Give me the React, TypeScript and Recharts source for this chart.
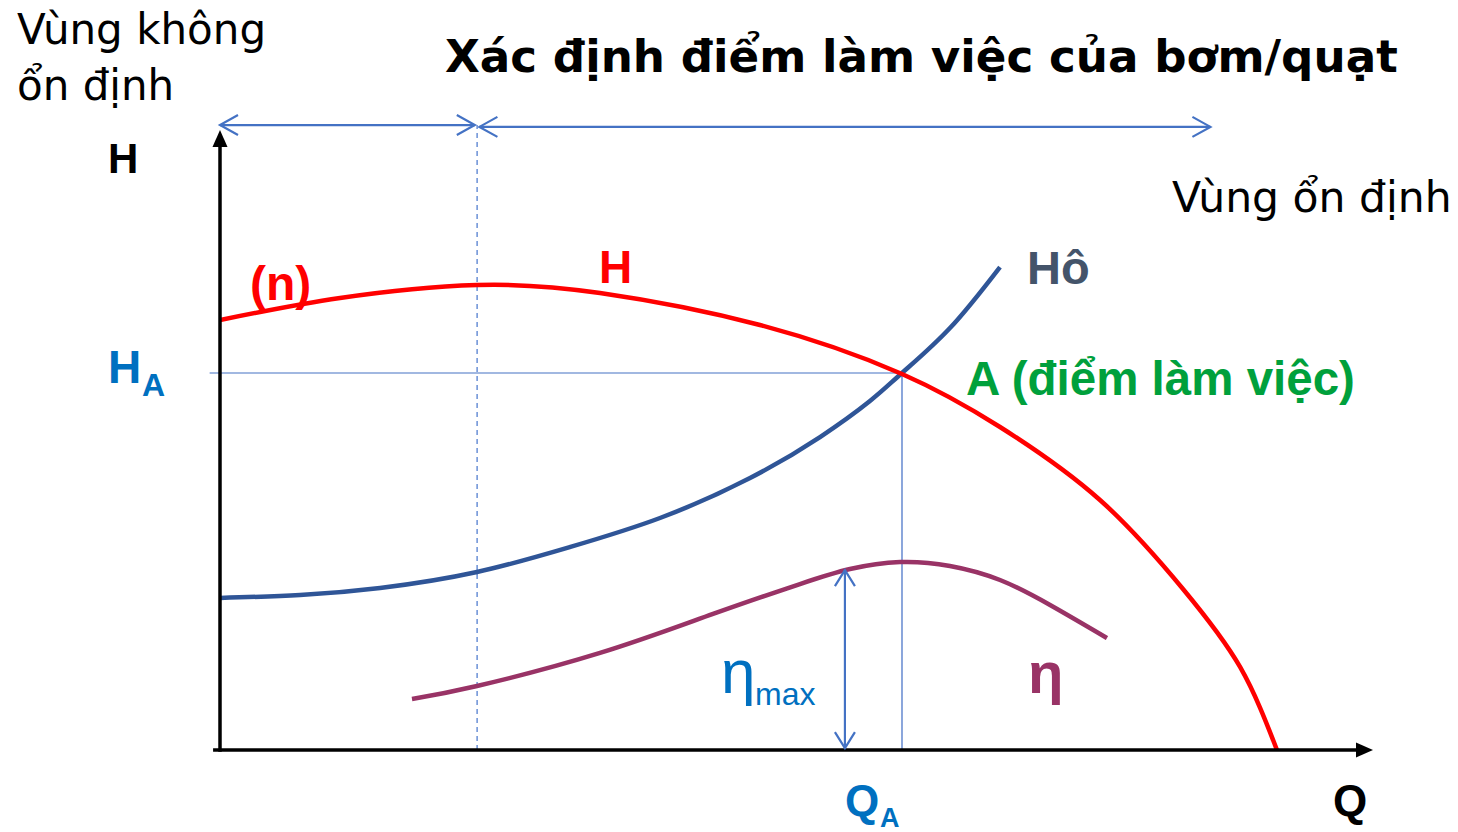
import React from 'react';
import { ComposedChart, Line, XAxis, YAxis, ReferenceLine } from 'recharts';

// Q: 0..100 along the axis, H: 0..100 up the axis
const pumpQ = [0, 10.41, 22.29, 32.96, 46.83, 59.15, 67.65, 76.32, 83.52, 88.47, 91.67];
const pumpH = [69.35, 72.9, 75.0, 73.71, 68.55, 60.65, 52.1, 40.32, 25.97, 13.39, 0];

const systemQ = [0, 6.94, 13.88, 22.29, 30.36, 38.16, 45.97, 52.04, 56.37, 59.15, 63.31, 67.65];
const systemH = [24.52, 25.0, 26.13, 28.71, 32.74, 37.42, 43.87, 50.48, 56.29, 60.81, 68.06, 77.9];

const effQ = [16.65, 22.29, 32.96, 42.76, 50.3, 54.64, 58.98, 63.31, 67.65, 71.99, 76.93];
const effH = [8.23, 10.32, 15.65, 21.94, 26.77, 29.19, 30.32, 29.68, 27.42, 23.39, 18.06];

// working point A and the limit of the unstable zone
const Q_A = 59.15;
const H_A = 60.81;
const Q_LIMIT = 22.3;
const Q_ETA_MAX = 54.2;
const H_ETA_MAX = 29;

const pumpData = pumpQ.map((q, i) => ({ q, h: pumpH[i] }));
const systemData = systemQ.map((q, i) => ({ q, h: systemH[i] }));
const effData = effQ.map((q, i) => ({ q, h: effH[i] }));

const BLUE = '#4472C4';

const arrowShape = (opts: { color: string; width: number; filled?: boolean; both?: boolean; len: number; half: number }) =>
  (props: any) => {
    const { x1, y1, x2, y2 } = props;
    const dx = x2 - x1;
    const dy = y2 - y1;
    const L = Math.hypot(dx, dy) || 1;
    const ux = dx / L;
    const uy = dy / L;
    const nx = -uy;
    const ny = ux;
    const head = (tx: number, ty: number, sx: number, sy: number) => {
      const bx = tx - sx * opts.len;
      const by = ty - sy * opts.len;
      const p1 = `${bx + nx * opts.half},${by + ny * opts.half}`;
      const p2 = `${bx - nx * opts.half},${by - ny * opts.half}`;
      return opts.filled ? (
        <polygon points={`${p1} ${tx},${ty} ${p2}`} fill={opts.color} />
      ) : (
        <polyline points={`${p1} ${tx},${ty} ${p2}`} fill="none" stroke={opts.color} strokeWidth={opts.width} />
      );
    };
    const ex = opts.filled ? x2 - ux * opts.len * 0.8 : x2;
    const ey = opts.filled ? y2 - uy * opts.len * 0.8 : y2;
    return (
      <g>
        <line x1={x1} y1={y1} x2={ex} y2={ey} stroke={opts.color} strokeWidth={opts.width} />
        {head(x2, y2, ux, uy)}
        {opts.both && head(x1, y1, -ux, -uy)}
      </g>
    );
  };

const DV = '"DejaVu Sans", Verdana, sans-serif';
const AR = '"Liberation Sans", Arial, sans-serif';

export default function App() {
  return (
    <div style={{ position: 'absolute', left: 0, top: 0, width: 1458, height: 832, background: '#fff' }}>
      <ComposedChart width={1458} height={832} margin={{ top: 130, right: 85, bottom: 82, left: 220 }}>
        <XAxis dataKey="q" type="number" domain={[0, 100]} hide allowDataOverflow />
        <YAxis type="number" domain={[0, 100]} hide allowDataOverflow />

        {/* unstable zone limit */}
        <ReferenceLine
          segment={[{ x: Q_LIMIT, y: 0 }, { x: Q_LIMIT, y: 100.8 }]}
          stroke="#6A90D6"
          strokeWidth={1.5}
          strokeDasharray="5 4"
          ifOverflow="visible"
        />
        {/* working point guide lines */}
        <ReferenceLine
          segment={[{ x: -0.9, y: H_A }, { x: Q_A, y: H_A }]}
          stroke={BLUE}
          strokeWidth={1.2}
          ifOverflow="visible"
        />
        <ReferenceLine
          segment={[{ x: Q_A, y: H_A }, { x: Q_A, y: 0 }]}
          stroke="#7F9DD8"
          strokeWidth={1.8}
          ifOverflow="visible"
        />

        <Line data={systemData} dataKey="h" type="natural" stroke="#2F5597" strokeWidth={4.5} dot={false} isAnimationActive={false} />
        <Line data={effData} dataKey="h" type="natural" stroke="#993366" strokeWidth={4.5} dot={false} isAnimationActive={false} />
        <Line data={pumpData} dataKey="h" type="natural" stroke="#FF0000" strokeWidth={4.5} dot={false} isAnimationActive={false} />

        {/* axes */}
        <ReferenceLine
          segment={[{ x: 0, y: -0.3 }, { x: 0, y: 100 }]}
          ifOverflow="visible"
          shape={arrowShape({ color: '#000', width: 3.5, filled: true, len: 17, half: 7.5 })}
        />
        <ReferenceLine
          segment={[{ x: -0.6, y: 0 }, { x: 100, y: 0 }]}
          ifOverflow="visible"
          shape={arrowShape({ color: '#000', width: 3.5, filled: true, len: 17, half: 7.5 })}
        />

        {/* zone arrows */}
        <ReferenceLine
          segment={[{ x: 0, y: 100.8 }, { x: 22.1, y: 100.8 }]}
          ifOverflow="visible"
          shape={arrowShape({ color: BLUE, width: 2.2, both: true, len: 18, half: 10 })}
        />
        <ReferenceLine
          segment={[{ x: 22.5, y: 100.5 }, { x: 85.9, y: 100.5 }]}
          ifOverflow="visible"
          shape={arrowShape({ color: BLUE, width: 2.2, both: true, len: 18, half: 10 })}
        />
        {/* eta max arrow */}
        <ReferenceLine
          segment={[{ x: Q_ETA_MAX, y: 0.3 }, { x: Q_ETA_MAX, y: H_ETA_MAX }]}
          ifOverflow="visible"
          shape={arrowShape({ color: BLUE, width: 2.2, both: true, len: 16, half: 10 })}
        />
      </ComposedChart>

      <svg width={1458} height={832} style={{ position: 'absolute', left: 0, top: 0, pointerEvents: 'none' }}>
        <text x={17} y={44} fontFamily={DV} fontSize={42} fill="#000">Vùng không</text>
        <text x={17} y={100} fontFamily={DV} fontSize={42} fill="#000">ổn định</text>
        <text x={445} y={72} fontFamily={DV} fontSize={45.2} fontWeight="bold" fill="#000">Xác định điểm làm việc của bơm/quạt</text>
        <text x={1172} y={212} fontFamily={DV} fontSize={42.5} fill="#000">Vùng ổn định</text>

        <text x={108} y={173} fontFamily={AR} fontSize={42} fontWeight="bold" fill="#000">H</text>
        <text x={250} y={300} fontFamily={AR} fontSize={48} fontWeight="bold" fill="#FF0000">(n)</text>
        <text x={599} y={283} fontFamily={AR} fontSize={46} fontWeight="bold" fill="#FF0000">H</text>
        <text x={1027} y={284} fontFamily={AR} fontSize={47} fontWeight="bold" fill="#44546A">Hô</text>
        <text x={966} y={395} fontFamily={AR} fontSize={47.5} fontWeight="bold" fill="#00A03C">A (điểm làm việc)</text>

        <text x={108} y={383} fontFamily={AR} fontSize={46} fontWeight="bold" fill="#0070C0">H</text>
        <text x={142} y={396} fontFamily={AR} fontSize={32} fontWeight="bold" fill="#0070C0">A</text>
        <text x={845} y={816} fontFamily={AR} fontSize={44} fontWeight="bold" fill="#0070C0">Q</text>
        <text x={880} y={827} fontFamily={AR} fontSize={27} fontWeight="bold" fill="#0070C0">A</text>
        <text x={1333} y={816} fontFamily={AR} fontSize={44} fontWeight="bold" fill="#000">Q</text>

        <text x={721} y={693} fontFamily={AR} fontSize={62} fill="#0070C0">η</text>
        <text x={755} y={705} fontFamily={AR} fontSize={32} fill="#0070C0">max</text>
        <text x={1028} y={693} fontFamily={AR} fontSize={58} fontWeight="bold" fill="#993366">η</text>
      </svg>
    </div>
  );
}
